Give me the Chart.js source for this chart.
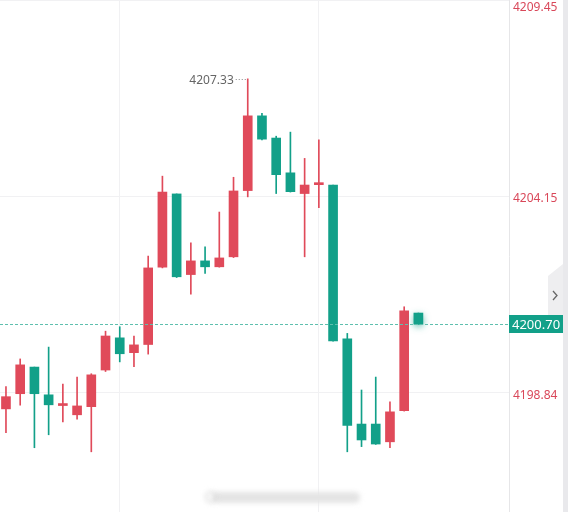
<!DOCTYPE html>
<html>
<head>
<meta charset="utf-8">
<script src="https://cdn.jsdelivr.net/npm/chart.js@4/dist/chart.umd.min.js"></script>
<style>
  html, body { margin: 0; padding: 0; background: #ffffff; }
  #wrap { width: 568px; height: 512px; position: relative; }
</style>
</head>
<body>
<div id="wrap"><canvas id="c" width="568" height="512"></canvas></div>
<script>
// ---- data ----
const opens  = [4198.41,4198.82,4199.54,4198.79,4198.50,4198.25,4198.47,4199.46,4200.33,4199.93,
                4200.15,4202.24,4204.22,4202.04,4202.41,4202.25,4202.52,4204.31,4206.33,4205.73,
                4204.79,4204.23,4204.47,4204.46,4200.30,4198.00,4198.00,4197.52,4198.36,4201.00];
const highs  = [4199.01,4199.76,4199.54,4200.08,4199.08,4199.27,4199.36,4200.51,4200.63,4200.38,
                4202.54,4204.70,4204.22,4202.90,4202.79,4203.73,4204.67,4207.33,4206.40,4205.78,
                4205.89,4205.18,4205.68,4204.46,4200.45,4198.92,4199.27,4198.60,4201.17,4201.00];
const lows   = [4197.77,4198.51,4197.36,4197.71,4198.06,4198.13,4197.25,4199.42,4199.68,4199.55,
                4199.89,4202.22,4201.96,4201.51,4202.07,4202.24,4202.50,4204.14,4205.68,4204.23,
                4204.27,4202.52,4203.85,4200.24,4197.25,4197.39,4197.45,4197.36,4198.35,4200.70];
const closes = [4198.74,4199.60,4198.82,4198.52,4198.53,4198.49,4199.33,4200.38,4199.90,4200.14,
                4202.22,4204.27,4201.98,4202.41,4202.25,4202.49,4204.30,4206.33,4205.70,4204.74,
                4204.28,4204.46,4204.50,4200.25,4197.96,4197.57,4197.46,4198.33,4201.06,4200.70];
const priceTicks = [4198.84, 4204.15, 4209.45];
const timeGridIdx = [8, 22];

const UP = '#e04a5a', DOWN = '#12a089';
const colors = closes.map((c, i) => c >= opens[i] ? UP : DOWN);

const bodies = closes.map((c, i) => ({ x: i, y: [opens[i], c] }));
const wicks  = closes.map((c, i) => ({ x: i, y: [lows[i], highs[i]] }));

const overlay = {
  id: 'overlay',
  afterDatasetsDraw(chart) {
    const ctx = chart.ctx, ca = chart.chartArea;
    const xs = chart.scales.x, ys = chart.scales.y;
    // glow on last candle
    const last = closes.length - 1;
    const el = chart.getDatasetMeta(0).data[last];
    ctx.save();
    ctx.shadowColor = 'rgba(18,160,137,0.7)';
    ctx.shadowBlur = 7;
    ctx.shadowOffsetY = 2;
    ctx.fillStyle = colors[last];
    const top = Math.min(el.y, el.base), h = Math.abs(el.base - el.y);
    ctx.fillRect(el.x - el.width / 2, top, el.width, h);
    ctx.restore();

    // max label
    let mi = 0;
    highs.forEach((h, i) => { if (h > highs[mi]) mi = i; });
    const mx = xs.getPixelForValue(mi), my = ys.getPixelForValue(highs[mi]);
    ctx.save();
    ctx.strokeStyle = '#888';
    ctx.lineWidth = 1;
    ctx.setLineDash([1, 2]);
    ctx.beginPath();
    ctx.moveTo(mx - 12, Math.round(my) + 0.5);
    ctx.lineTo(mx, Math.round(my) + 0.5);
    ctx.stroke();
    ctx.setLineDash([]);
    ctx.fillStyle = '#666';
    ctx.font = '12px "Noto Sans", sans-serif';
    ctx.textAlign = 'right';
    ctx.textBaseline = 'middle';
    ctx.fillText(highs[mi].toFixed(2), mx - 14, my + 2);
    ctx.restore();
  },
  afterDraw(chart) {
    const ctx = chart.ctx, ca = chart.chartArea;
    const ys = chart.scales.y;
    const last = closes.length - 1;
    const py = Math.round(ys.getPixelForValue(closes[last])) + 0.5;
    ctx.save();
    // current price dashed line
    ctx.strokeStyle = '#5fbfae';
    ctx.lineWidth = 1;
    ctx.setLineDash([3, 2]);
    ctx.beginPath();
    ctx.moveTo(ca.left, py);
    ctx.lineTo(ca.right, py);
    ctx.stroke();
    ctx.setLineDash([]);
    // right scroll strip
    ctx.fillStyle = '#e9e9ec';
    ctx.fillRect(563, 0, 5, 512);
    // tab with arrow
    ctx.fillStyle = '#eeeef0';
    ctx.beginPath();
    ctx.moveTo(548, 276);
    ctx.lineTo(563, 264);
    ctx.lineTo(563, 318);
    ctx.lineTo(548, 318);
    ctx.closePath();
    ctx.fill();
    ctx.strokeStyle = '#666';
    ctx.lineWidth = 1.3;
    ctx.beginPath();
    ctx.moveTo(553, 291);
    ctx.lineTo(557, 295.5);
    ctx.lineTo(553, 300);
    ctx.stroke();
    // price box
    ctx.fillStyle = '#12a089';
    ctx.fillRect(ca.right, py - 9.5, 54, 18);
    ctx.fillStyle = '#ffffff';
    ctx.font = '13px "Noto Sans", sans-serif';
    ctx.textAlign = 'left';
    ctx.textBaseline = 'middle';
    ctx.fillText(closes[last].toFixed(2), ca.right + 3, py + 0.5);
    // blurred watermark
    ctx.filter = 'blur(2.5px)';
    ctx.fillStyle = '#e4e4e4';
    ctx.beginPath();
    ctx.roundRect(212, 492, 148, 11, 5);
    ctx.fill();
    ctx.strokeStyle = '#d8d8d8';
    ctx.lineWidth = 2;
    ctx.beginPath();
    ctx.arc(211, 497, 5, 0, Math.PI * 2);
    ctx.stroke();
    ctx.filter = 'none';
    ctx.restore();
  }
};

new Chart(document.getElementById('c'), {
  type: 'bar',
  data: {
    datasets: [
      { label: 'body', data: bodies, backgroundColor: colors, barThickness: 9, minBarLength: 2,
        borderWidth: 0, grouped: false, order: 0 },
      { label: 'wick', data: wicks, backgroundColor: colors, barThickness: 1,
        borderWidth: 0, grouped: false, order: 1 }
    ]
  },
  options: {
    responsive: false,
    animation: false,
    events: [],
    layout: { padding: 0 },
    plugins: { legend: { display: false }, tooltip: { enabled: false } },
    scales: {
      x: {
        type: 'linear',
        min: -0.42, max: 35.37,
        offset: false,
        afterBuildTicks(s) { s.ticks = timeGridIdx.map(v => ({ value: v })); },
        afterFit(s) { s.height = 0; s.paddingLeft = 0; s.paddingRight = 0; s.paddingTop = 0; s.paddingBottom = 0; },
        ticks: { display: false },
        grid: { color: '#f1f1f3', drawTicks: false, offset: false },
        border: { display: false }
      },
      y: {
        position: 'right',
        min: 4195.623, max: 4209.461,
        afterBuildTicks(s) { s.ticks = priceTicks.map(v => ({ value: v })); },
        afterFit(s) { s.width = 59; s.paddingTop = 0; s.paddingBottom = 0; s.paddingLeft = 0; s.paddingRight = 0; },
        ticks: {
          color: '#d9485a',
          padding: 4,
          font: { size: 12, family: '"Noto Sans", sans-serif', lineHeight: '5px' },
          callback(v) {
            const t = Number(v).toFixed(2);
            return v === priceTicks[priceTicks.length - 1] ? ['', '', '', t] : ['', t];
          }
        },
        grid: { color: '#f1f1f3', drawTicks: false },
        border: { color: '#e6e6e8' }
      }
    }
  },
  plugins: [overlay]
});
</script>
</body>
</html>
